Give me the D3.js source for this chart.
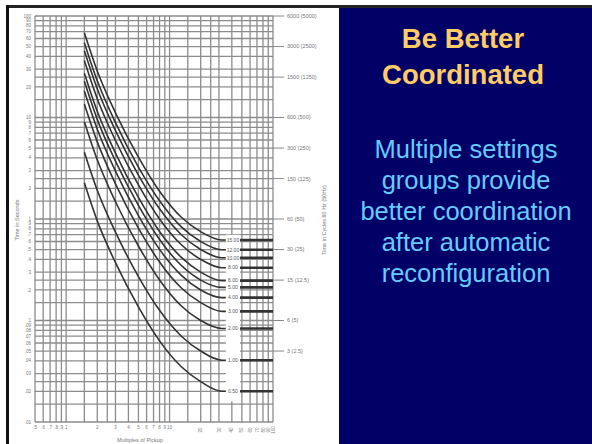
<!DOCTYPE html>
<html>
<head>
<meta charset="utf-8">
<script src="https://cdn.jsdelivr.net/npm/d3@7"></script>
<style>
  body { margin: 0; background: #fff; }
  svg { display: block; font-family: "Liberation Sans", Arial, sans-serif; }
</style>
</head>
<body>
<svg id="chart" width="592" height="444"></svg>
<script>
// multiples of pickup where each time dial curve was read
var multiples = [1.5, 2, 3, 5, 8, 13, 20, 32];

// time dial labels, top curve first
var dialLabels = ['15.00', '12.00', '10.00', '8.00', '6.00', '5.00', '4.00', '3.00', '2.00', '1.00', '0.50'];

// operating time in seconds at each multiple, one row per time dial
var curveTimes = [
  [68.2, 28.7, 11.1, 4.07, 1.88, 1.04, 0.75, 0.622],
  [54.6, 23.0, 8.89, 3.25, 1.51, 0.835, 0.60, 0.497],
  [45.5, 19.2, 7.41, 2.71, 1.26, 0.70, 0.50, 0.415],
  [36.4, 15.3, 5.93, 2.17, 1.00, 0.557, 0.40, 0.331],
  [27.3, 11.5, 4.45, 1.63, 0.753, 0.418, 0.30, 0.247],
  [22.7, 9.58, 3.71, 1.36, 0.628, 0.348, 0.25, 0.212],
  [18.2, 7.66, 2.96, 1.08, 0.502, 0.278, 0.20, 0.168],
  [13.6, 5.75, 2.22, 0.813, 0.377, 0.209, 0.15, 0.123],
  [9.10, 3.83, 1.48, 0.542, 0.251, 0.139, 0.10, 0.0835],
  [4.55, 1.92, 0.741, 0.271, 0.126, 0.070, 0.050, 0.0406],
  [2.27, 0.958, 0.371, 0.136, 0.063, 0.035, 0.025, 0.0201]
];

// grid lines
var xGrid = [0.5, 0.6, 0.7, 0.8, 0.9, 1, 1.5, 2, 2.5, 3, 4, 5, 6, 7, 8, 9, 10, 15, 20, 25, 30, 40, 50, 60, 70, 80, 90, 100];
var yGrid = [0.01, 0.015, 0.02, 0.025, 0.03, 0.04, 0.05, 0.06, 0.07, 0.08, 0.09,
  0.1, 0.15, 0.2, 0.25, 0.3, 0.4, 0.5, 0.6, 0.7, 0.8, 0.9,
  1, 1.5, 2, 2.5, 3, 4, 5, 6, 7, 8, 9,
  10, 15, 20, 25, 30, 40, 50, 60, 70, 80, 90, 100];

// tick labels
var xTicks = [0.5, 0.6, 0.7, 0.8, 0.9, 1, 2, 3, 4, 5, 6, 7, 8, 9, 10, 20, 30, 40, 50, 60, 70, 80, 90, 100];
var xTickText = ['.5', '.6', '.7', '.8', '.9', '1', '2', '3', '4', '5', '6', '7', '8', '9', '10', '20', '30', '40', '50', '60', '70', '80', '90', '100'];
var yTicks = [0.01, 0.02, 0.03, 0.04, 0.05, 0.06, 0.07, 0.08, 0.09,
  0.1, 0.2, 0.3, 0.4, 0.5, 0.6, 0.7, 0.8, 0.9,
  1, 2, 3, 4, 5, 6, 7, 8, 9,
  10, 20, 30, 40, 50, 60, 70, 80, 90, 100];

// right axis: cycles at 60 Hz (50 Hz)
var cycleTimes = [100, 50, 25, 10, 5, 2.5, 1, 0.5, 0.25, 0.1, 0.05];
var cycleText = ['6000 (5000)', '3000 (2500)', '1500 (1250)', '600 (500)', '300 (250)', '150 (125)',
  '60 (50)', '30 (25)', '15 (12.5)', '6 (5)', '3 (2.5)'];

var titleLines = ['Be Better', 'Coordinated'];
var bodyLines = ['Multiple settings', 'groups provide', 'better coordination', 'after automatic', 'reconfiguration'];

var svg = d3.select('#chart');

var x = d3.scaleLog().domain([0.5, 100]).range([35, 273]);
var y = d3.scaleLog().domain([0.01, 100]).range([422, 16]);

// frame
svg.append('rect').attr('x', 0).attr('y', 0).attr('width', 592).attr('height', 444).attr('fill', '#fff');
svg.append('rect').attr('x', 339).attr('y', 7).attr('width', 253).attr('height', 437).attr('fill', '#000066');
svg.append('line').attr('x1', 6).attr('x2', 592).attr('y1', 6.5).attr('y2', 6.5)
  .attr('stroke', '#222').attr('stroke-width', 3);
svg.append('line').attr('x1', 7.5).attr('x2', 7.5).attr('y1', 5).attr('y2', 444)
  .attr('stroke', '#111').attr('stroke-width', 3);

var plot = svg.append('g').attr('class', 'plot');

// grid
plot.selectAll('.vgrid').data(xGrid).enter().append('line')
  .attr('class', 'vgrid')
  .attr('x1', function (d) { return x(d); })
  .attr('x2', function (d) { return x(d); })
  .attr('y1', y(100)).attr('y2', y(0.01))
  .attr('stroke', '#8c8c8c').attr('stroke-width', 1.3);

plot.selectAll('.hgrid').data(yGrid).enter().append('line')
  .attr('class', 'hgrid')
  .attr('x1', x(0.5)).attr('x2', x(100))
  .attr('y1', function (d) { return y(d); })
  .attr('y2', function (d) { return y(d); })
  .attr('stroke', '#8c8c8c').attr('stroke-width', 1.3);

// white column behind the time dial labels
plot.append('rect')
  .attr('x', x(35)).attr('y', y(0.7))
  .attr('width', x(48) - x(35)).attr('height', y(0.016) - y(0.7))
  .attr('fill', '#fff');

// curves
var line = d3.line()
  .x(function (d) { return x(d[0]); })
  .y(function (d) { return y(d[1]); })
  .curve(d3.curveMonotoneX);

curveTimes.forEach(function (row, i) {
  var pts = multiples.map(function (m, j) { return [m, row[j]]; });
  pts.push([35, row[row.length - 1]]);
  plot.append('path')
    .attr('d', line(pts))
    .attr('fill', 'none')
    .attr('stroke', '#333')
    .attr('stroke-width', 1.6);

  // definite time part
  plot.append('line')
    .attr('x1', x(48)).attr('x2', x(100))
    .attr('y1', y(row[row.length - 1])).attr('y2', y(row[row.length - 1]))
    .attr('stroke', '#333').attr('stroke-width', 2.6);

  plot.append('text')
    .attr('x', (x(35) + x(48)) / 2)
    .attr('y', y(row[row.length - 1]))
    .attr('dy', '0.35em')
    .attr('text-anchor', 'middle')
    .style('font-size', '5px')
    .attr('fill', '#555')
    .text(dialLabels[i]);
});

// left tick labels
plot.selectAll('.ylab').data(yTicks).enter().append('text')
  .attr('class', 'ylab')
  .attr('x', 31).attr('y', function (d) { return y(d); })
  .attr('dy', '0.35em').attr('text-anchor', 'end')
  .style('font-size', '4.5px').attr('fill', '#777')
  .text(function (d) { return d >= 1 ? d : String(+d.toFixed(2)).replace(/^0/, ''); });

// bottom tick labels, the ones past 10 stand on end
plot.selectAll('.xlab').data(xTicks).enter().append('text')
  .attr('class', 'xlab')
  .attr('transform', function (d) {
    return d > 10 ? 'translate(' + (x(d) + 1.6) + ',430) rotate(-90)' : 'translate(' + x(d) + ',429)';
  })
  .attr('text-anchor', 'middle')
  .style('font-size', '4.5px').attr('fill', '#777')
  .text(function (d, i) { return xTickText[i]; });

// right axis ticks and labels
plot.selectAll('.rtick').data(cycleTimes).enter().append('line')
  .attr('class', 'rtick')
  .attr('x1', x(100)).attr('x2', x(100) + 11)
  .attr('y1', function (d) { return y(d); })
  .attr('y2', function (d) { return y(d); })
  .attr('stroke', '#888').attr('stroke-width', 1);

plot.selectAll('.rlab').data(cycleTimes).enter().append('text')
  .attr('class', 'rlab')
  .attr('x', x(100) + 14).attr('y', function (d) { return y(d); })
  .attr('dy', '0.35em')
  .style('font-size', '5.5px').attr('fill', '#777')
  .text(function (d, i) { return cycleText[i]; });

// axis titles
plot.append('text')
  .attr('transform', 'translate(19,220) rotate(-90)')
  .attr('text-anchor', 'middle')
  .style('font-size', '5.5px').attr('fill', '#777')
  .text('Time in Seconds');

plot.append('text')
  .attr('transform', 'translate(326,220) rotate(-90)')
  .attr('text-anchor', 'middle')
  .style('font-size', '5.5px').attr('fill', '#777')
  .text('Time in Cycles 60 Hz (50Hz)');

plot.append('text')
  .attr('x', 140).attr('y', 442)
  .attr('text-anchor', 'middle')
  .style('font-size', '5.5px').attr('fill', '#777')
  .text('Multiples of Pickup');

// slide text
svg.selectAll('.title').data(titleLines).enter().append('text')
  .attr('class', 'title')
  .attr('x', 463).attr('y', function (d, i) { return 48 + i * 36; })
  .attr('text-anchor', 'middle')
  .style('font-size', '27.5px').style('font-weight', 'bold')
  .attr('fill', '#ffcc66')
  .text(function (d) { return d; });

svg.selectAll('.body').data(bodyLines).enter().append('text')
  .attr('class', 'body')
  .attr('x', 466).attr('y', function (d, i) { return 158 + i * 31; })
  .attr('text-anchor', 'middle')
  .style('font-size', '25.5px')
  .attr('fill', '#66ccff')
  .text(function (d) { return d; });
</script>
</body>
</html>
